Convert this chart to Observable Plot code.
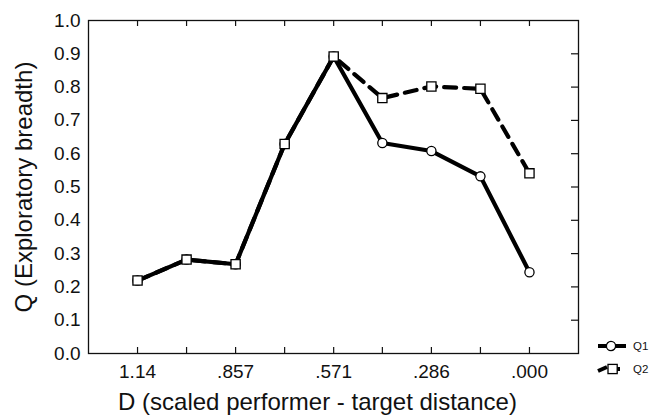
<!DOCTYPE html>
<html>
<head>
<meta charset="utf-8">
<script src="https://cdn.jsdelivr.net/npm/d3@7"></script>
<script src="https://cdn.jsdelivr.net/npm/@observablehq/plot@0.6"></script>
<style>
  html, body { margin: 0; padding: 0; background: #fff; }
  #wrap { position: relative; width: 651px; height: 417px; font-family: "Liberation Sans", Arial, sans-serif; }
  #wrap svg text { font-family: "Liberation Sans", Arial, sans-serif; fill: #111; }
  [aria-label="y-axis label"] text { font-size: 24px; }
  #legend { position: absolute; left: 590px; top: 334px; }
</style>
</head>
<body>
<div id="wrap"></div>
<script>
// ---- data ----
const D = [1.143, 1.000, 0.857, 0.714, 0.571, 0.429, 0.286, 0.143, 0.000];
const Q1 = [0.219, 0.282, 0.268, 0.629, 0.892, 0.632, 0.608, 0.532, 0.244];
const Q2 = [0.219, 0.282, 0.268, 0.629, 0.892, 0.767, 0.802, 0.795, 0.541];
const xTicks = [1.143, 0.857, 0.571, 0.286, 0.000];
const xTickLabels = ["1.14", ".857", ".571", ".286", ".000"];
const yTicks = [0, 0.1, 0.2, 0.3, 0.4, 0.5, 0.6, 0.7, 0.8, 0.9, 1.0];
const yInnerTicks = [0.1, 0.2, 0.3, 0.4, 0.5, 0.6, 0.7, 0.8, 0.9];
const seriesNames = ["Q1", "Q2"];
const xLabel = "D (scaled performer - target distance)";
const yLabel = "Q (Exploratory breadth)";

const q1 = D.map((d, i) => ({D: d, Q: Q1[i]}));
const q2 = D.map((d, i) => ({D: d, Q: Q2[i]}));

const W = 651, H = 417;
const mL = 88, mR = 73, mT = 20, mB = 64;
const pw = W - mL - mR, ph = H - mT - mB;

const chart = Plot.plot({
  width: W, height: H,
  marginLeft: mL, marginRight: mR, marginTop: mT, marginBottom: mB,
  style: {background: "#fff", overflow: "visible"},
  x: {domain: [1.286, -0.143]},
  y: {domain: [0, 1]},
  marks: [
    Plot.frame({stroke: "#111", strokeWidth: 1.3}),
    Plot.tickX(D, {x: d => d, insetTop: ph - 6, stroke: "#111", strokeWidth: 1.2}),
    Plot.tickX(D, {x: d => d, insetBottom: ph - 6, stroke: "#111", strokeWidth: 1.2}),
    Plot.tickY(yInnerTicks, {y: d => d, insetLeft: pw - 7, stroke: "#111", strokeWidth: 1.2}),
    Plot.axisX({ticks: xTicks, tickFormat: (d) => xTickLabels[xTicks.indexOf(d)], tickSize: 0, tickPadding: 11, fontSize: 19,
      label: null}),
    Plot.text([xLabel], {text: d => d, frameAnchor: "bottom", lineAnchor: "bottom", dy: 56, dx: -16,
      fontSize: 24, fill: "#111"}),
    Plot.axisY({ticks: yTicks, tickFormat: d3.format(".1f"), tickSize: 0, tickPadding: 8, fontSize: 19,
      label: yLabel, labelArrow: "none", labelAnchor: "center", labelOffset: 74}),
    Plot.line(q1, {x: "D", y: "Q", stroke: "#000", strokeWidth: 4.2, strokeLinejoin: "round"}),
    Plot.line(q2, {x: "D", y: "Q", stroke: "#000", strokeWidth: 4.2, strokeDasharray: "12,8", strokeDashoffset: 0}),
    Plot.dot(q1, {x: "D", y: "Q", r: 4.6, symbol: "circle", fill: "#fff", stroke: "#000", strokeWidth: 1.3}),
    Plot.dot(q2, {x: "D", y: "Q", r: 5.2, symbol: "square", fill: "#fff", stroke: "#000", strokeWidth: 1.3})
  ]
});
document.getElementById("wrap").appendChild(chart);

// ---- legend ----
const leg = d3.select("#wrap").append("svg").attr("id", "legend").attr("width", 60).attr("height", 44);
seriesNames.forEach((name, i) => {
  const g = leg.append("g").attr("transform", `translate(0,${12 + i * 23})`);
  if (i === 0) {
    g.append("line").attr("x1", 8).attr("x2", 36).attr("y1", 0).attr("y2", 0).attr("stroke", "#000").attr("stroke-width", 4);
    g.append("circle").attr("cx", 21).attr("cy", 0).attr("r", 4.6).attr("fill", "#fff").attr("stroke", "#000").attr("stroke-width", 1.3);
  } else {
    g.append("line").attr("x1", 8).attr("x2", 17).attr("y1", 2).attr("y2", -2).attr("stroke", "#000").attr("stroke-width", 4);
    g.append("line").attr("x1", 23).attr("x2", 30).attr("y1", 0).attr("y2", 0).attr("stroke", "#000").attr("stroke-width", 4);
    g.append("rect").attr("x", 18).attr("y", -4.6).attr("width", 9.2).attr("height", 9.2).attr("fill", "#fff").attr("stroke", "#000").attr("stroke-width", 1.3);
  }
  g.append("text").attr("x", 43).attr("y", 0).attr("dy", "0.35em").attr("font-size", 11.5).attr("fill", "#111")
    .style("font-family", "'Liberation Sans', Arial, sans-serif").text(name);
});
</script>
</body>
</html>
